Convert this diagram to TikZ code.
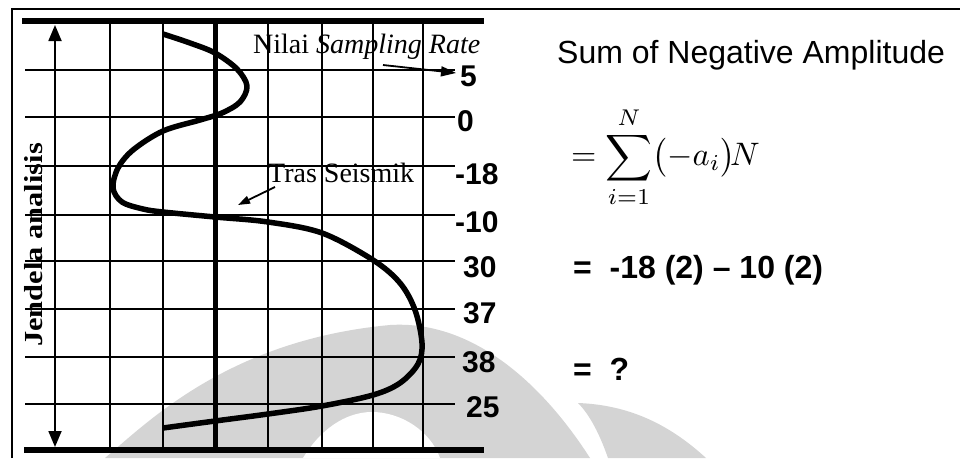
\documentclass[tikz,border=0pt]{standalone}
\usepackage{fontspec}
\setmainfont{Liberation Serif}
\newfontfamily\arialf{Liberation Sans}
\usetikzlibrary{arrows.meta}
\definecolor{wmark}{RGB}{212,212,212}
\begin{document}
\begin{tikzpicture}[x=1pt,y=-1pt,
  gridline/.style={line width=1.7pt,black},
  axisline/.style={line width=5pt,black},
  barline/.style={line width=6pt,black},
  frameline/.style={line width=2pt,black},
  tracecurve/.style={line width=5.5pt,black,line join=round},
  numlabel/.style={anchor=west,inner sep=0pt,font=\arialf\bfseries\fontsize{30}{34}\selectfont},
  serifnote/.style={anchor=base west,inner sep=0pt,font=\fontsize{28}{32}\selectfont},
  ptr/.style={line width=1.8pt,-{Triangle[length=15pt,width=10pt]}},
  ptrsmall/.style={line width=1.8pt,-{Triangle[length=12pt,width=8pt]}},
  sansline/.style={anchor=base west,inner sep=0pt,font=\arialf\bfseries\fontsize{32}{36}\selectfont}
]
\useasboundingbox (0,0) rectangle (960,458);
\fill[white] (0,0) rectangle (960,458);

% watermark
\fill[wmark] (105,458) .. controls (150,420) and (230,340) .. (390,325)
  .. controls (470,320) and (540,380) .. (590,458) -- cycle;
\fill[white] (303,458) .. controls (320,430) and (345,412) .. (372,412)
  .. controls (400,412) and (430,430) .. (440,458) -- cycle;
\fill[wmark] (578,403) .. controls (630,405) and (670,425) .. (706,458)
  -- (608,458) .. controls (600,435) and (590,415) .. (578,403) -- cycle;

% outer frame
\draw[frameline] (12,458) -- (12,9) -- (960,9);

% horizontal grid lines
\foreach \yy in {70,117,166,215,261,309,357,404}
  \draw[gridline] (25,\yy) -- (455,\yy);
% vertical grid lines
\foreach \xx in {110,163,268,322,373,423}
  \draw[gridline] (\xx,21) -- (\xx,450);
% trace axis
\draw[axisline] (215,21) -- (215,450);
% thick top and bottom bars
\draw[barline] (22,21) -- (484,21);
\draw[barline] (24,450) -- (484,450);

% analysis window arrow
\draw[line width=1.8pt,{Triangle[length=16pt,width=13pt]}-{Triangle[length=16pt,width=13pt]}] (55,25) -- (55,447);
\node[rotate=90,inner sep=0pt,font=\bfseries\fontsize{26}{30}\selectfont] (jendela) at (34,245)
  {\scalebox{1.17}[1]{Jendela analisis}};

% seismic trace
\draw[tracecurve] plot[smooth,tension=0.55] coordinates {
 (163,34) (190,43) (215,53) (237,69) (247,86) (240,102) (222,113) (200,120)
 (163,131) (133,150) (118,168) (113,188) (122,202) (143,209) (163,212)
 (215,217) (268,222) (322,233) (373,260) (400,283) (415,310) (422,343)
 (418,364) (400,383) (373,395) (322,406) (268,414) (215,421) (163,428)};

% value labels
\node[numlabel] (l5) at (460,76) {5};
\node[numlabel] (l0) at (457,121) {0};
\node[numlabel] (lm18) at (455,174) {-18};
\node[numlabel] (lm10) at (455,222) {-10};
\node[numlabel] (l30) at (463,267) {30};
\node[numlabel] (l37) at (463,313) {37};
\node[numlabel] (l38) at (462,362) {38};
\node[numlabel] (l25) at (466,407) {25};

% annotations
\node[serifnote] (nilai) at (253,53) {Nilai \textit{Sampling Rate}};
\coordinate (srtail) at (383,65);
\draw[ptr] (srtail) -- ([shift={(-4,-3)}]l5.west);
\node[serifnote] (tras) at (268,182) {Tras Seismik};
\coordinate (trastail) at (275,187);
\coordinate (trastip) at (238,205);
\draw[ptrsmall] (trastail) -- (trastip);

% right side
\node[anchor=base west,inner sep=0pt,font=\arialf\fontsize{32}{38}\selectfont] (title) at (557,63) {Sum of Negative Amplitude};
\node[anchor=west,inner sep=0pt,font=\fontsize{10}{12}\selectfont] (formula) at (571,157)
  {\scalebox{3.25}{$\displaystyle=\sum_{i=1}^{N}\bigl(-a_i\bigr)\!N$}};
\node[sansline] (calc) at (573,278) {=\ \ -18 (2) – 10 (2)};
\node[sansline] (result) at (573,380) {=\ \ ?};
\end{tikzpicture}
\end{document}
